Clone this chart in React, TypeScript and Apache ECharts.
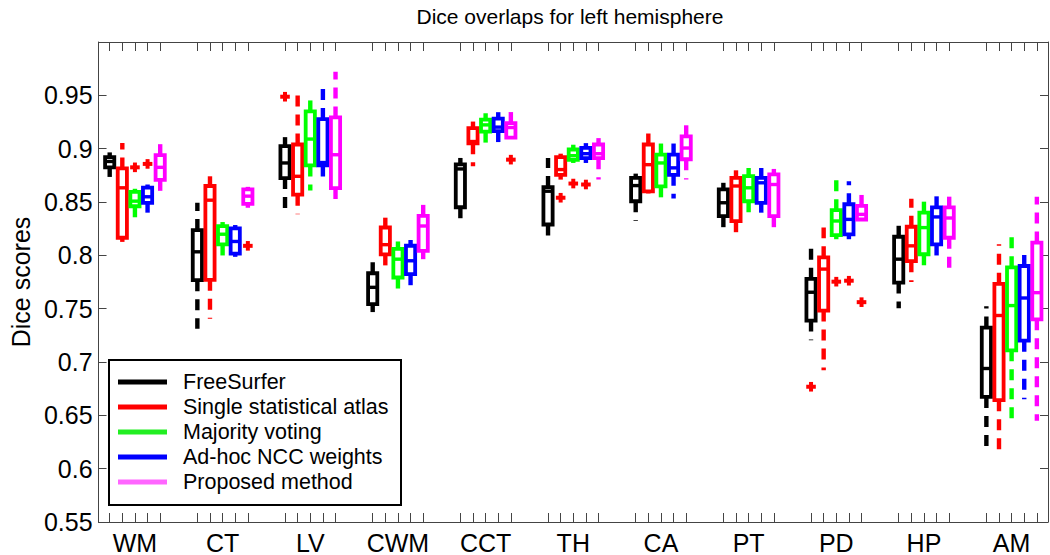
import React, { useEffect, useRef } from 'react';
import * as echarts from 'echarts';

const categories = ['WM', 'CT', 'LV', 'CWM', 'CCT', 'TH', 'CA', 'PT', 'PD', 'HP', 'AM'];
const methods = ['FreeSurfer', 'Single statistical atlas', 'Majority voting', 'Ad-hoc NCC weights', 'Proposed method'];
const colors = ['#000000', '#ff0000', '#00ff00', '#0000ff', '#ff00ff'];
const legendColors = ['#000000', '#ff0000', '#22ee22', '#0000ff', '#ff66ff'];

// each row: [lower whisker, q1, median, q3, upper whisker]
const freeSurfer = [
  [0.8735, 0.8825, 0.888, 0.892, 0.8965],
  [0.7312, 0.7767, 0.8033, 0.8237, 0.8493],
  [0.8431, 0.8724, 0.8866, 0.9023, 0.9108],
  [0.7468, 0.7543, 0.77, 0.7832, 0.7949],
  [0.8291, 0.8451, 0.881, 0.8852, 0.8913],
  [0.8135, 0.8289, 0.8601, 0.864, 0.8913],
  [0.8322, 0.8507, 0.8654, 0.8727, 0.8766],
  [0.8244, 0.8367, 0.8493, 0.8619, 0.868],
  [0.7203, 0.7388, 0.7654, 0.778, 0.8126],
  [0.7505, 0.7745, 0.7964, 0.8174, 0.8337],
  [0.62, 0.6673, 0.6939, 0.7323, 0.7523],
];
const singleAtlas = [
  [0.8126, 0.8165, 0.8633, 0.8815, 0.9052],
  [0.7405, 0.777, 0.8517, 0.865, 0.8741],
  [0.8384, 0.8569, 0.8741, 0.9039, 0.9534],
  [0.784, 0.8009, 0.81, 0.8261, 0.8353],
  [0.8834, 0.9051, 0.9067, 0.9193, 0.9254],
  [0.871, 0.8755, 0.8804, 0.892, 0.8953],
  [0.858, 0.86, 0.885, 0.9039, 0.9192],
  [0.8167, 0.832, 0.865, 0.8727, 0.8797],
  [0.6923, 0.7482, 0.7871, 0.7981, 0.826],
  [0.775, 0.7945, 0.8089, 0.8268, 0.853],
  [0.615, 0.6642, 0.7436, 0.7733, 0.8104],
];
const majorityVoting = [
  [0.8344, 0.846, 0.8508, 0.8594, 0.8624],
  [0.7986, 0.8102, 0.8198, 0.8274, 0.8312],
  [0.8608, 0.8843, 0.909, 0.9349, 0.9503],
  [0.7654, 0.7792, 0.7964, 0.806, 0.813],
  [0.9021, 0.916, 0.9223, 0.9272, 0.9332],
  [0.8866, 0.8895, 0.8934, 0.8992, 0.9037],
  [0.8499, 0.8647, 0.8866, 0.8945, 0.9077],
  [0.84, 0.8507, 0.8633, 0.8743, 0.8819],
  [0.8151, 0.819, 0.8322, 0.8423, 0.8726],
  [0.7887, 0.801, 0.826, 0.84, 0.855],
  [0.6442, 0.7109, 0.7529, 0.7888, 0.8198],
];
const adhocNCC = [
  [0.84, 0.8491, 0.8549, 0.8634, 0.8664],
  [0.7986, 0.8016, 0.813, 0.8252, 0.8284],
  [0.8664, 0.8843, 0.887, 0.9277, 0.958],
  [0.7701, 0.7823, 0.7949, 0.809, 0.8144],
  [0.9037, 0.9165, 0.9202, 0.9281, 0.9342],
  [0.8866, 0.8911, 0.8953, 0.9007, 0.9052],
  [0.8533, 0.8755, 0.882, 0.8945, 0.9067],
  [0.84, 0.8491, 0.868, 0.8727, 0.8819],
  [0.8151, 0.8196, 0.8337, 0.8479, 0.8694],
  [0.7971, 0.8102, 0.836, 0.845, 0.86],
  [0.665, 0.72, 0.76, 0.79, 0.807],
];
const proposed = [
  [0.8586, 0.8708, 0.8825, 0.8939, 0.9052],
  [0.8446, 0.8482, 0.8555, 0.8619, 0.8642],
  [0.8477, 0.8631, 0.8943, 0.9293, 0.972],
  [0.7964, 0.8041, 0.8275, 0.837, 0.8487],
  [0.9095, 0.9104, 0.9198, 0.924, 0.9347],
  [0.871, 0.8911, 0.8953, 0.9039, 0.9099],
  [0.871, 0.8901, 0.9006, 0.9116, 0.9245],
  [0.8235, 0.8367, 0.8664, 0.8759, 0.881],
  [0.8336, 0.8336, 0.8384, 0.8463, 0.8633],
  [0.7878, 0.8165, 0.835, 0.845, 0.855],
  [0.645, 0.74, 0.765, 0.812, 0.855],
];
const methodStats = [freeSurfer, singleAtlas, majorityVoting, adhocNCC, proposed];

// [category index, method index, value]
const outliers = [
  [0, 2, 0.8825], [0, 3, 0.8857],
  [1, 4, 0.8089],
  [2, 0, 0.9487],
  [4, 4, 0.8897],
  [5, 1, 0.854], [5, 2, 0.8673], [5, 3, 0.8664],
  [8, 0, 0.6768], [8, 2, 0.7753], [8, 3, 0.7762], [8, 4, 0.7561],
];

const yTickLabelsMax = 0.95;
const offsetStep = 0.144;
const FONT = '"Liberation Sans", Arial, Helvetica, sans-serif';

const posOf = (cat: number, m: number) => cat + 1 + (m - 2) * offsetStep;

export default function App() {
  const ref = useRef<HTMLDivElement>(null);
  useEffect(() => {
    if (!ref.current) return;
    const chart = echarts.init(ref.current, null, { renderer: 'svg' });

    const boxData: number[][] = [];
    methodStats.forEach((stats, m) => {
      stats.forEach((s, c) => {
        boxData.push([posOf(c, m), s[0], s[1], s[2], s[3], s[4], m]);
      });
    });
    const outlierData = outliers.map(([c, m, v]) => [posOf(c, m), v]);
    const tickPositions: number[] = [];
    categories.forEach((_, c) => methods.forEach((__, m) => tickPositions.push(posOf(c, m))));
    const labelPositions = categories.map((_, c) => c + 1);

    const xCommon = {
      type: 'value' as const,
      min: 0.585,
      max: 11.415,
      axisLine: { show: true, onZero: false, lineStyle: { color: '#444', width: 1 } },
      axisTick: { show: true, inside: true, length: 9, customValues: tickPositions, lineStyle: { color: '#444', width: 1 } },
      splitLine: { show: false },
    };
    const yCommon = {
      type: 'value' as const,
      min: 0.55,
      max: 1.0,
      interval: 0.05,
      axisLine: { show: true, onZero: false, lineStyle: { color: '#444', width: 1 } },
      axisTick: { show: true, inside: true, length: 8, lineStyle: { color: '#444', width: 1 } },
      splitLine: { show: false },
    };

    const legendTop = 360;
    const legendRowH = 25;
    const legendChildren: any[] = [
      {
        type: 'rect',
        shape: { x: 109, y: legendTop, width: 292, height: 145 },
        style: { fill: '#fff', stroke: '#000', lineWidth: 2 },
      },
    ];
    methods.forEach((name, i) => {
      const y = legendTop + 22 + i * legendRowH;
      legendChildren.push({
        type: 'line',
        shape: { x1: 118, y1: y, x2: 167, y2: y },
        style: { stroke: legendColors[i], lineWidth: 5 },
      });
      legendChildren.push({
        type: 'text',
        style: {
          x: 183, y, text: name, fill: '#000', font: `21.5px ${FONT}`,
          textAlign: 'left', textVerticalAlign: 'middle',
        },
      });
    });

    chart.setOption({
      animation: false,
      backgroundColor: '#fff',
      grid: { left: 92, right: 2, top: 42, bottom: 31, containLabel: false },
      xAxis: [
        {
          ...xCommon,
          position: 'bottom',
          axisLabel: {
            show: true,
            customValues: labelPositions,
            formatter: (v: number) => categories[Math.round(v) - 1] || '',
            fontSize: 25, color: '#000', fontFamily: FONT, margin: 8,
          },
        },
        { ...xCommon, position: 'top', axisLabel: { show: false } },
      ],
      yAxis: [
        {
          ...yCommon,
          position: 'left',
          name: 'Dice scores',
          nameLocation: 'middle',
          nameRotate: 90,
          nameGap: 58,
          nameTextStyle: { fontSize: 25, color: '#000', fontFamily: FONT },
          axisLabel: {
            show: true,
            formatter: (v: number) => (v > yTickLabelsMax + 0.001 ? '' : String(parseFloat(v.toFixed(2)))),
            fontSize: 25, color: '#000', fontFamily: FONT, margin: 6,
          },
        },
        { ...yCommon, position: 'right', axisLabel: { show: false } },
      ],
      graphic: [
        {
          type: 'text',
          style: {
            x: 570, y: 16, text: 'Dice overlaps for left hemisphere', fill: '#000',
            font: `21px ${FONT}`, textAlign: 'center', textVerticalAlign: 'middle',
          },
        },
        { type: 'group', z: 100, children: legendChildren },
      ],
      series: [
        {
          type: 'custom',
          data: boxData,
          encode: { x: 0, y: [1, 2, 3, 4, 5] },
          clip: true,
          renderItem: (params: any, api: any) => {
            const x = api.value(0);
            const c = colors[api.value(6)];
            const pLo = api.coord([x, api.value(1)]);
            const pQ1 = api.coord([x, api.value(2)]);
            const pMed = api.coord([x, api.value(3)]);
            const pQ3 = api.coord([x, api.value(4)]);
            const pHi = api.coord([x, api.value(5)]);
            const px = pMed[0];
            const hw = 4.6;
            const dash = [11, 8];
            return {
              type: 'group',
              children: [
                {
                  type: 'line',
                  shape: { x1: px, y1: pQ3[1], x2: px, y2: pHi[1] },
                  style: { stroke: c, lineWidth: 4.4, lineDash: dash, fill: null },
                },
                {
                  type: 'line',
                  shape: { x1: px, y1: pQ1[1], x2: px, y2: pLo[1] },
                  style: { stroke: c, lineWidth: 4.4, lineDash: dash, fill: null },
                },
                {
                  type: 'rect',
                  shape: { x: px - hw, y: pQ3[1], width: hw * 2, height: pQ1[1] - pQ3[1] },
                  style: { stroke: c, fill: 'none', lineWidth: 3.8 },
                },
                {
                  type: 'line',
                  shape: { x1: px - hw, y1: pMed[1], x2: px + hw, y2: pMed[1] },
                  style: { stroke: c, lineWidth: 3.4, fill: null },
                },
              ],
            };
          },
        },
        {
          type: 'custom',
          data: outlierData,
          encode: { x: 0, y: 1 },
          renderItem: (params: any, api: any) => {
            const p = api.coord([api.value(0), api.value(1)]);
            const h = 4.8;
            return {
              type: 'group',
              children: [
                { type: 'line', shape: { x1: p[0] - h, y1: p[1], x2: p[0] + h, y2: p[1] }, style: { stroke: '#ff0000', lineWidth: 4 } },
                { type: 'line', shape: { x1: p[0], y1: p[1] - h, x2: p[0], y2: p[1] + h }, style: { stroke: '#ff0000', lineWidth: 4 } },
              ],
            };
          },
        },
      ],
    });
    return () => chart.dispose();
  }, []);
  return <div ref={ref} style={{ position: 'absolute', left: 0, top: 0, width: 1050, height: 555 }} />;
}
